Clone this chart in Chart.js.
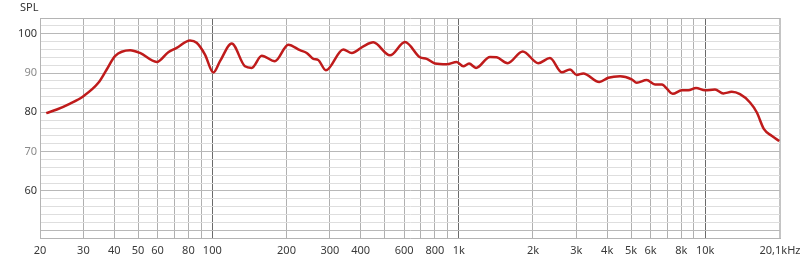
<!DOCTYPE html>
<html>
<head>
<meta charset="utf-8">
<script src="https://cdn.jsdelivr.net/npm/chart.js@4.4.1/dist/chart.umd.min.js"></script>
<style>
  body { margin: 0; background: #fff; }
  #wrap { width: 800px; height: 262px; }
</style>
</head>
<body>
<div id="wrap"><canvas id="spl" width="800" height="262"></canvas></div>
<script>
// ------------------ //
//  DATA              //
// ------------------ //

// Frequencies in Hz
var freqs = [21.2, 23.4, 26.5, 30.0, 34.5, 37.3, 40.3, 46.4, 50.9, 59.5,
  66.3, 71.7, 81.2, 86.4, 93.4, 101, 107.5, 119.9, 135.7, 144.5,
  158.7, 179.6, 203.4, 226.8, 241.6, 257, 269, 289, 340, 368,
  410, 450, 526, 605, 696, 741, 801, 893, 981, 1043,
  1101, 1175, 1339, 1425, 1579, 1817, 2102, 2344, 2616, 2827,
  3010, 3200, 3716, 4042, 4510, 5030, 5270, 5787, 6254, 6657,
  7377, 8024, 8536, 9172, 9977, 10952, 11838, 12804, 13834, 15190,
  16172, 17310, 18590, 19968];

// Sound pressure level in dB at each frequency
var splValues = [79.8, 80.7, 82.2, 84.1, 87.5, 90.9, 94.3, 95.8, 95.1, 92.8,
  95.3, 96.4, 98.3, 97.7, 94.7, 90.1, 93.0, 97.5, 91.7, 91.3,
  94.4, 93.0, 97.2, 95.8, 95.1, 93.6, 93.3, 90.7, 96.0, 95.1,
  96.8, 97.8, 94.5, 97.9, 94.0, 93.6, 92.4, 92.2, 92.8, 91.7,
  92.4, 91.3, 94.1, 94.0, 92.5, 95.5, 92.5, 93.8, 90.2, 90.9,
  89.5, 89.9, 87.7, 88.8, 89.2, 88.4, 87.5, 88.2, 87.1, 87.1,
  84.7, 85.6, 85.6, 86.2, 85.6, 85.8, 84.8, 85.2, 84.6, 82.5,
  80.0, 75.7, 74.0, 72.7];

// Vertical grid positions and the labels printed under them
var xGridValues = [20, 30, 40, 50, 60, 70, 80, 90, 100, 200, 300, 400, 500, 600, 700, 800, 900,
  1000, 2000, 3000, 4000, 5000, 6000, 7000, 8000, 9000, 10000, 20100];
var xTickLabels = {
  20: "20", 30: "30", 40: "40", 50: "50", 60: "60", 80: "80", 100: "100",
  200: "200", 300: "300", 400: "400", 600: "600", 800: "800", 1000: "1k",
  2000: "2k", 3000: "3k", 4000: "4k", 5000: "5k", 6000: "6k", 8000: "8k",
  10000: "10k", 20100: "20,1kHz"
};
var yTickLabels = [60, 70, 80, 90, 100];


// ----------- //
//  FUNCTIONS  //
// ----------- //

// Draws the "SPL" caption above the y axis
var splCaption = {
  id: "splCaption",
  afterDraw: function(chart) {
    var ctx = chart.ctx;
    ctx.save();
    ctx.font = "11px 'Noto Sans'";
    ctx.fillStyle = "#333";
    ctx.textAlign = "left";
    ctx.textBaseline = "middle";
    ctx.fillText("SPL", 20, 8);
    ctx.restore();
  }
};

var points = freqs.map(function(f, i) { return { x: f, y: splValues[i] }; });

new Chart(document.getElementById("spl"), {
  type: "line",
  data: {
    datasets: [{
      data: points,
      borderColor: "#bf1b1b",
      borderWidth: 2.5,
      pointRadius: 0,
      fill: false,
      cubicInterpolationMode: "monotone"
    }]
  },
  options: {
    responsive: false,
    animation: false,
    layout: { padding: { top: 18, right: 20, left: 0, bottom: 0 } },
    plugins: { legend: { display: false }, tooltip: { enabled: false } },
    scales: {
      x: {
        type: "logarithmic",
        min: 20,
        max: 20100,
        afterBuildTicks: function(scale) {
          scale.ticks = xGridValues.map(function(v) { return { value: v }; });
        },
        afterFit: function(scale) {
          scale.height = 24;
          // the outer labels may hang over the edges, don't shrink the plot for them
          scale.paddingLeft = 0;
          scale.paddingRight = 0;
        },
        border: { color: "#b4b4b4" },
        grid: {
          drawTicks: false,
          color: function(c) {
            var v = c.tick ? c.tick.value : 0;
            if (v == 100 || v == 1000 || v == 10000) return "#6a6a6a";
            if (v == 20100) return "#c4c4c4";
            return "#b0b0b0";
          },
          lineWidth: function(c) {
            return (c.tick && c.tick.value == 20100) ? 2 : 1;
          }
        },
        ticks: {
          autoSkip: false,
          maxRotation: 0,
          padding: 6,
          color: "#3a3a3a",
          font: { family: "'Noto Sans'", size: 11 },
          callback: function(value) {
            return xTickLabels[value] !== undefined ? xTickLabels[value] : "";
          }
        }
      },
      y: {
        min: 48,
        max: 104,
        afterFit: function(scale) { scale.width = 40; },
        border: { color: "#b4b4b4" },
        grid: {
          drawTicks: false,
          color: function(c) {
            var v = c.tick ? c.tick.value : 0;
            if (v == 104) return "#b4b4b4";
            return (v % 10 == 0) ? "#b8b8b8" : "#dedede";
          }
        },
        ticks: {
          stepSize: 2,
          autoSkip: false,
          padding: 3,
          font: { family: "'Noto Sans'", size: 11 },
          color: function(c) {
            var v = c.tick ? c.tick.value : 0;
            return (v == 90 || v == 70) ? "#8a8a8a" : "#333";
          },
          callback: function(value) {
            return yTickLabels.indexOf(value) >= 0 ? String(value) : "";
          }
        }
      }
    }
  },
  plugins: [splCaption]
});
</script>
</body>
</html>
